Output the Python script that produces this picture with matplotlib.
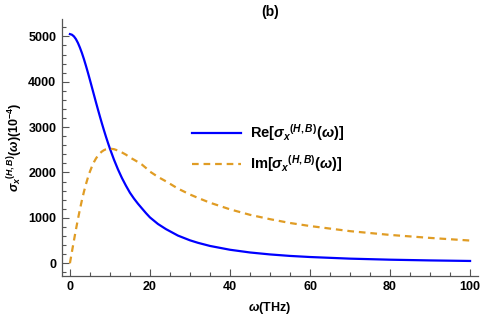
import matplotlib

matplotlib.use("Agg")
import matplotlib.pyplot as plt
from matplotlib.ticker import MultipleLocator

# values
omega = [0, 0.5, 1, 1.5, 2, 2.5, 3, 3.5, 4, 4.5, 5, 5.5, 6, 6.5, 7, 7.5, 8, 8.5,
         9, 9.5, 10, 11, 12, 13, 14, 15, 16, 17, 18, 19, 20, 22, 24, 27, 30, 32,
         35, 40, 45, 50, 55, 60, 70, 80, 90, 100]
re_sigma = [5050, 5037, 5000, 4940, 4856, 4752, 4633, 4499, 4353, 4200, 4040,
            3877, 3713, 3549, 3389, 3232, 3079, 2932, 2790, 2655, 2525, 2285,
            2070, 1878, 1709, 1554, 1426, 1312, 1208, 1105, 1010, 865, 752, 609,
            505, 450, 381, 297, 237, 194, 161, 137, 101, 78, 62, 50]
im_sigma = [0, 252, 500, 741, 971, 1188, 1390, 1575, 1741, 1890, 2020, 2132,
            2228, 2307, 2372, 2424, 2463, 2492, 2511, 2522, 2525, 2514, 2484,
            2441, 2393, 2331, 2282, 2231, 2174, 2100, 2020, 1903, 1805, 1645,
            1515, 1440, 1334, 1188, 1067, 971, 887, 820, 707, 624, 558, 500]

plt.rcParams["font.family"] = ["Liberation Sans", "DejaVu Sans"]
plt.rcParams["font.weight"] = "bold"
plt.rcParams["mathtext.fontset"] = "custom"
plt.rcParams["mathtext.rm"] = "Liberation Sans:bold"
plt.rcParams["mathtext.it"] = "Liberation Sans:italic:bold"
plt.rcParams["mathtext.bf"] = "Liberation Sans:bold"

fig = plt.figure(figsize=(4.8, 3.19), dpi=100)
ax = fig.add_axes([0.129, 0.135, 0.867, 0.805])

ax.plot(omega, re_sigma, color="#0000ff", linewidth=1.6,
        label=r"Re[$\sigma_x{}^{(H,B)}(\omega)$]")
ax.plot(omega, im_sigma, color="#e09c24", linewidth=1.6, linestyle=(0, (3, 2.2)),
        label=r"Im[$\sigma_x{}^{(H,B)}(\omega)$]")

ax.set_xlim(-2, 102)
ax.set_ylim(-280, 5380)
ax.xaxis.set_major_locator(MultipleLocator(20))
ax.xaxis.set_minor_locator(MultipleLocator(5))
ax.yaxis.set_major_locator(MultipleLocator(1000))
ax.yaxis.set_minor_locator(MultipleLocator(200))

axis_grey = "#555555"
for side in ("top", "right"):
    ax.spines[side].set_visible(False)
for side in ("left", "bottom"):
    ax.spines[side].set_color(axis_grey)
    ax.spines[side].set_linewidth(0.9)
ax.tick_params(which="both", direction="in", color=axis_grey, width=0.8,
               labelsize=9, pad=4)
ax.tick_params(which="major", length=5)
ax.tick_params(which="minor", length=3)
for lbl in ax.get_xticklabels() + ax.get_yticklabels():
    lbl.set_fontweight("bold")

ax.set_xlabel(r"$\omega$(THz)", fontsize=9, fontweight="bold", labelpad=5)
ax.set_ylabel(r"$\sigma_x{}^{(H,B)}(\omega)(10^{-4})$", fontsize=9,
              fontweight="bold", labelpad=2)
ax.set_title("(b)", fontsize=10, fontweight="bold", pad=2)

ax.legend(loc="upper left", bbox_to_anchor=(0.28, 0.65), frameon=False,
          fontsize=10.5, handlelength=3.4, handletextpad=0.6, labelspacing=0.7)

fig.savefig("out.png", dpi=100)
